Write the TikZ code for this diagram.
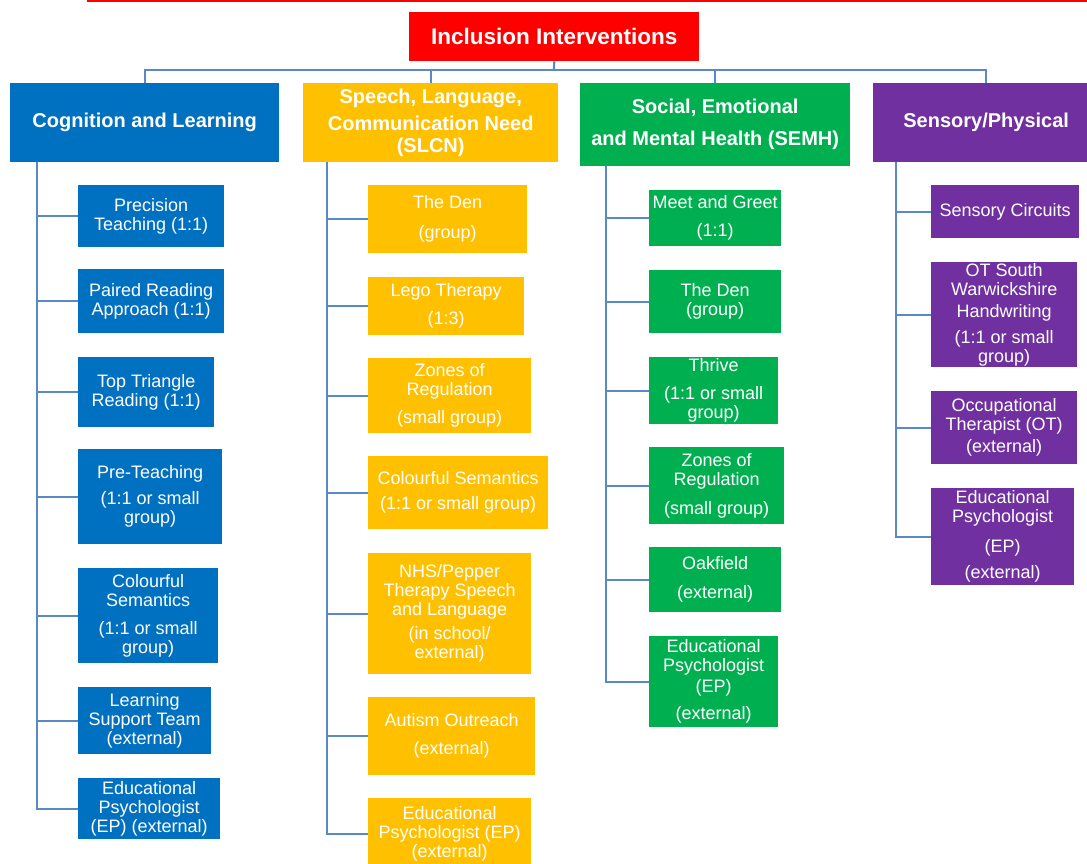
\documentclass[tikz,border=0pt]{standalone}
\usepackage{fontspec}
\setmainfont{Liberation Sans}
\usepackage{xcolor}
\usepackage{tikz}

\definecolor{clblue}{HTML}{0070C0}
\definecolor{slgold}{HTML}{FFC000}
\definecolor{segreen}{HTML}{00B050}
\definecolor{sppurple}{HTML}{7030A0}
\definecolor{linkblue}{HTML}{5A8AC6}

\begin{document}
\begin{tikzpicture}[x=1pt,y=-1pt]

\tikzstyle{ibox}=[anchor=north west,inner sep=1pt,align=center,text=white,font=\fontsize{18}{19}\selectfont]
\tikzstyle{head}=[ibox,font=\bfseries\fontsize{20}{22}\selectfont]
\tikzstyle{clkid}=[ibox,fill=clblue]
\tikzstyle{slkid}=[ibox,fill=slgold]
\tikzstyle{sekid}=[ibox,fill=segreen]
\tikzstyle{spkid}=[ibox,fill=sppurple]
\tikzstyle{link}=[draw=linkblue,line width=2.2pt]

\useasboundingbox (0,0) rectangle (1087,863);
\clip (0,0) rectangle (1087,863);

%% red rule on top
\draw[red,line width=4pt] (87,0) -- (1087,0);

%% title and the four areas
\node[head,fill=red,font=\bfseries\fontsize{22.5}{24}\selectfont,minimum width=290,minimum height=49] (top) at (409,12) {Inclusion Interventions};

\node[head,fill=clblue,minimum width=269,minimum height=79] (cl) at (10,83) {Cognition and Learning};
\node[head,fill=slgold,minimum width=255,minimum height=79] (sl) at (303,83) {Speech, Language,\\[5pt]Communication Need\\(SLCN)};
\node[head,fill=segreen,minimum width=270,minimum height=83] (se) at (580,83) {Social, Emotional\\[10pt]and Mental Health (SEMH)};
\node[head,fill=sppurple,minimum width=226,minimum height=79] (sp) at (873,83) {Sensory/Physical};

%% Cognition and Learning
\node[clkid,minimum width=146,minimum height=62] (cl1) at (78,185) {Precision\\Teaching (1:1)};
\node[clkid,minimum width=146,minimum height=64] (cl2) at (78,269) {Paired Reading\\Approach (1:1)};
\node[clkid,minimum width=136,minimum height=70] (cl3) at (78,357) {Top Triangle\\Reading (1:1)};
\node[clkid,minimum width=144,minimum height=95] (cl4) at (78,449) {Pre-Teaching\\[7pt](1:1 or small\\group)};
\node[clkid,minimum width=140,minimum height=95] (cl5) at (78,568) {Colourful\\Semantics\\[9pt](1:1 or small\\group)};
\node[clkid,minimum width=133,minimum height=67] (cl6) at (78,687) {Learning\\Support Team\\(external)};
\node[clkid,minimum width=142,minimum height=61] (cl7) at (78,778) {Educational\\Psychologist\\(EP) (external)};

%% Speech, Language, Communication Need
\node[slkid,minimum width=159,minimum height=68] (sl1) at (368,185) {The Den\\[11pt](group)};
\node[slkid,minimum width=156,minimum height=58] (sl2) at (368,277) {Lego Therapy\\[9pt](1:3)};
\node[slkid,minimum width=163,minimum height=75] (sl3) at (368,358) {Zones of\\Regulation\\[9pt](small group)};
\node[slkid,minimum width=180,minimum height=73] (sl4) at (368,456) {Colourful Semantics\\[6pt](1:1 or small group)};
\node[slkid,minimum width=163,minimum height=121] (sl5) at (368,553) {NHS/Pepper\\Therapy Speech\\and Language\\[5pt](in school/\\external)};
\node[slkid,minimum width=167,minimum height=78] (sl6) at (368,697) {Autism Outreach\\[9pt](external)};
\node[slkid,minimum width=163,minimum height=72] (sl7) at (368,798) {Educational\\Psychologist (EP)\\(external)};

%% Social, Emotional and Mental Health
\node[sekid,minimum width=132,minimum height=56] (se1) at (649,190) {Meet and Greet\\[9pt](1:1)};
\node[sekid,minimum width=132,minimum height=63] (se2) at (649,270) {The Den\\(group)};
\node[sekid,minimum width=129,minimum height=67] (se3) at (649,357) {Thrive\\[9pt](1:1 or small\\group)};
\node[sekid,minimum width=135,minimum height=77] (se4) at (649,447) {Zones of\\Regulation\\[10pt](small group)};
\node[sekid,minimum width=132,minimum height=65] (se5) at (649,547) {Oakfield\\[10pt](external)};
\node[sekid,minimum width=129,minimum height=91] (se6) at (649,636) {Educational\\Psychologist\\[2pt](EP)\\[8pt](external)};

%% Sensory/Physical
\node[spkid,minimum width=148,minimum height=53] (sp1) at (931,185) {Sensory Circuits};
\node[spkid,minimum width=146,minimum height=105] (sp2) at (931,262) {OT South\\Warwickshire\\[3pt]Handwriting\\[7pt](1:1 or small\\group)};
\node[spkid,minimum width=146,minimum height=73] (sp3) at (931,391) {Occupational\\Therapist (OT)\\[3pt](external)};
\node[spkid,minimum width=143,minimum height=97] (sp4) at (931,488) {Educational\\Psychologist\\[11pt](EP)\\[7pt](external)};

%% connectors
\coordinate (bar) at (554,70);
\draw[link] (top.south) -- (bar);
\foreach \h in {cl,sl,se,sp}
    \draw[link] (bar) -| (\h.north);

\foreach \k in {1,...,7}
    \draw[link] ([xshift=27pt]cl.south west) |- (cl\k.west);
\foreach \k in {1,...,7}
    \draw[link] ([xshift=24pt]sl.south west) |- (sl\k.west);
\foreach \k in {1,...,6}
    \draw[link] ([xshift=26pt]se.south west) |- (se\k.west);
\foreach \k in {1,...,4}
    \draw[link] ([xshift=23pt]sp.south west) |- (sp\k.west);

\end{tikzpicture}
\end{document}
